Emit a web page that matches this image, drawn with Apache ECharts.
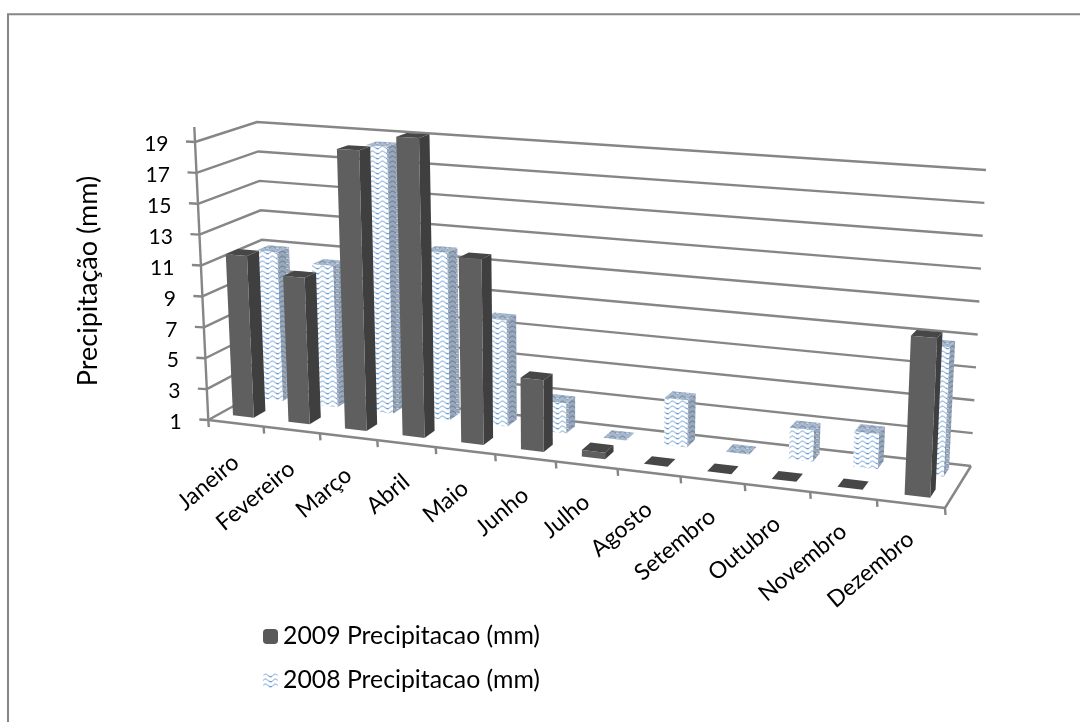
<!DOCTYPE html>
<html>
<head>
<meta charset="utf-8">
<title>Precipitação</title>
<script src="https://cdn.jsdelivr.net/npm/echarts@6/dist/echarts.min.js"></script>
<style>
html, body { margin: 0; padding: 0; background: #fff; }
#chart { width: 1080px; height: 722px; }
</style>
</head>
<body>
<div id="chart"></div>
<script>
var months = ["Janeiro", "Fevereiro", "Março", "Abril", "Maio", "Junho", "Julho", "Agosto", "Setembro", "Outubro", "Novembro", "Dezembro"];
var rain2009 = [11.5, 10.4, 18.8, 19.8, 12.5, 5.4, 1.4, 1, 1, 1, 1, 10.1];
var rain2008 = [10.9, 10.3, 18.4, 11.8, 7.8, 2.9, 1, 3.9, 1, 2.9, 3.1, 8.7];
var levels = [1, 3, 5, 7, 9, 11, 13, 15, 17, 19];

var gridColor = "#868686";
var fontName = "Lato, 'Noto Sans', sans-serif";

// corners of the 3d box on the page: [front/back][left/right][floor/top]
var box = {
  fl0: [208.3, 420], fl1: [195, 142],
  fr0: [945, 508], fr1: [959, 186],
  bl0: [268, 387], bl1: [257, 122],
  br0: [971, 466], br1: [986, 170]
};
var stretch = 1.12; // months get wider towards the right, like in the perspective view

function mix(a, b, k) {
  return [a[0] + (b[0] - a[0]) * k, a[1] + (b[1] - a[1]) * k];
}

// s: 0..1 along months, t: 0..1 along value, d: 0..1 into the depth
function project(s, t, d) {
  var k = s / (stretch + (1 - stretch) * s);
  var front = mix(mix(box.fl0, box.fr0, k), mix(box.fl1, box.fr1, k), t);
  var back = mix(mix(box.bl0, box.br0, k), mix(box.bl1, box.br1, k), t);
  return mix(front, back, d);
}

// month index + offset in bands, value and depth -> page position, via the hidden grid's scales
function toPage(params, api, month, off, value, d) {
  var cs = params.coordSys;
  var c = api.coord([month, value]);
  var x = c[0] + off * api.size([1, 0])[0];
  return project((x - cs.x) / cs.width, (cs.y + cs.height - c[1]) / cs.height, d);
}

function wavePattern(bg, line, line2) {
  var c = document.createElement("canvas");
  c.width = 10;
  c.height = 5;
  var g = c.getContext("2d");
  g.fillStyle = bg;
  g.fillRect(0, 0, 10, 5);
  g.strokeStyle = line;
  g.lineWidth = 1.3;
  g.beginPath();
  g.moveTo(0, 2.5);
  g.bezierCurveTo(2.5, 0.5, 2.5, 0.5, 5, 2.5);
  g.bezierCurveTo(7.5, 4.5, 7.5, 4.5, 10, 2.5);
  g.stroke();
  g.strokeStyle = line2;
  g.lineWidth = 0.8;
  g.beginPath();
  g.moveTo(6, 3.2);
  g.lineTo(9, 3.8);
  g.stroke();
  return { image: c, repeat: "repeat" };
}

var frontWave = wavePattern("#ffffff", "#a9c6e6", "#5f93cc");
var sideWave = wavePattern("#9aa8bc", "#76889f", "#dfe5ee");
var topWave = wavePattern("#a9b9cd", "#8097b3", "#dfe6ef");

function barRenderer(depthStart, depthEnd, frontFill, sideFill, topFill) {
  return function (params, api) {
    var i = api.value(0);
    var v = api.value(1);
    // bars sit a bit more to the left of their band near the left wall
    var shift = -0.085 * (1 - i / 11);
    var left = -0.17 + shift, right = 0.21 + shift;
    var a = toPage(params, api, i, left, 1, depthStart);
    var b = toPage(params, api, i, right, 1, depthStart);
    var c = toPage(params, api, i, right, 1, depthEnd);
    var e = toPage(params, api, i, left, v, depthStart);
    var f = toPage(params, api, i, right, v, depthStart);
    var g = toPage(params, api, i, right, v, depthEnd);
    var h = toPage(params, api, i, left, v, depthEnd);
    return {
      type: "group",
      children: [
        { type: "polygon", shape: { points: [b, c, g, f] }, style: { fill: sideFill } },
        { type: "polygon", shape: { points: [e, f, g, h] }, style: { fill: topFill } },
        { type: "polygon", shape: { points: [a, b, f, e] }, style: { fill: frontFill } }
      ]
    };
  };
}

function line(a, b) {
  return {
    type: "line",
    shape: { x1: a[0], y1: a[1], x2: b[0], y2: b[1] },
    style: { stroke: gridColor, lineWidth: 2.4 }
  };
}

function renderWalls(params, api) {
  var lv = api.value(1);
  var a = toPage(params, api, 0, -0.5, lv, 0);
  var b = toPage(params, api, 0, -0.5, lv, 1);
  var c = toPage(params, api, 11, 0.5, lv, 1);
  return {
    type: "group",
    children: [
      { type: "polyline", shape: { points: [a, b, c] }, style: { stroke: gridColor, lineWidth: 2.4, fill: null } },
      line(a, [a[0] - 9, a[1] - 0.5]),
      {
        type: "text",
        x: a[0] - 26.5,
        y: a[1] + 2.5,
        style: { text: String(lv), align: "right", verticalAlign: "middle", font: "21px " + fontName, fill: "#000" }
      }
    ]
  };
}

function renderMonthAxis(params, api) {
  var i = api.value(0);
  var tickAt = toPage(params, api, i, 0.5, 1, 0);
  var mid = toPage(params, api, i, 0, 1, 0);
  var kids = [
    line(tickAt, [tickAt[0] + 0.5, tickAt[1] + 7]),
    {
      type: "text",
      x: mid[0],
      y: mid[1] + 36 - 4 * i / 11,
      rotation: 40 * Math.PI / 180,
      style: { text: months[i], align: "right", verticalAlign: "middle", font: "23px " + fontName, fill: "#000" }
    }
  ];
  if (i === 0) {
    var o = toPage(params, api, 0, -0.5, 1, 0);
    var fr = toPage(params, api, 11, 0.5, 1, 0);
    var end = toPage(params, api, 0, -0.5, 19, 0);
    kids.push(line(o, [o[0] + 0.5, o[1] + 7]));
    kids.push(line(o, fr));
    kids.push(line(fr, toPage(params, api, 11, 0.5, 1, 1)));
    kids.push(line(o, [end[0] - 0.7, end[1] - 15]));
  }
  return { type: "group", children: kids };
}

function pairs(values) {
  return values.map(function (v, i) { return [i, v]; });
}

var option = {
  animation: false,
  backgroundColor: "#fff",
  grid: { left: 200, top: 100, width: 700, height: 400 },
  xAxis: { type: "category", data: months, show: false },
  yAxis: { type: "value", min: 1, max: 19, show: false },
  legend: {
    orient: "vertical",
    left: 258,
    top: 619,
    itemWidth: 15,
    itemHeight: 15,
    itemGap: 19,
    data: ["2009 Precipitacao (mm)", "2008 Precipitacao (mm)"],
    textStyle: { fontFamily: fontName, fontSize: 24.8, color: "#000" }
  },
  graphic: [
    { type: "polyline", shape: { points: [[8, 722], [8, 14.3], [1080, 14.3]] }, style: { stroke: gridColor, lineWidth: 2, fill: null } },
    {
      type: "text",
      x: 88,
      y: 281,
      rotation: Math.PI / 2,
      style: { text: "Precipitação (mm)", align: "center", verticalAlign: "middle", font: "27px " + fontName, fill: "#000" }
    }
  ],
  series: [
    {
      name: "paredes",
      type: "custom",
      coordinateSystem: "cartesian2d",
      data: levels.map(function (l) { return [0, l]; }),
      encode: { x: 0, y: 1 },
      renderItem: renderWalls,
      silent: true,
      z: 1
    },
    {
      name: "eixo",
      type: "custom",
      coordinateSystem: "cartesian2d",
      data: months.map(function (m, i) { return [i, 1]; }),
      encode: { x: 0, y: 1 },
      renderItem: renderMonthAxis,
      silent: true,
      z: 1
    },
    {
      name: "2008 Precipitacao (mm)",
      type: "custom",
      coordinateSystem: "cartesian2d",
      data: pairs(rain2008),
      encode: { x: 0, y: 1 },
      itemStyle: { color: frontWave },
      renderItem: barRenderer(0.69, 0.89, frontWave, sideWave, topWave),
      silent: true,
      z: 2
    },
    {
      name: "2009 Precipitacao (mm)",
      type: "custom",
      coordinateSystem: "cartesian2d",
      data: pairs(rain2009),
      encode: { x: 0, y: 1 },
      itemStyle: { color: "#595959" },
      renderItem: barRenderer(0.19, 0.39, "#5f5f5f", "#3f3f3f", "#474747"),
      silent: true,
      z: 3
    }
  ]
};

var chart = echarts.init(document.getElementById("chart"), null, { renderer: "canvas" });
chart.setOption(option);
</script>
</body>
</html>
